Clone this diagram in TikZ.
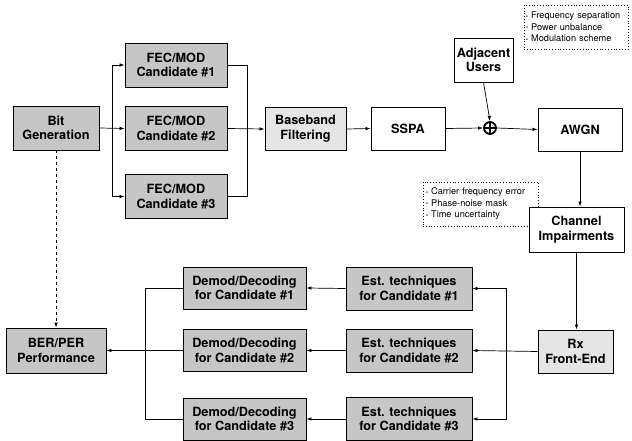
\documentclass[tikz,border=0pt]{standalone}
\usepackage{fontspec}
\setmainfont{TeX Gyre Heros}
\usetikzlibrary{arrows.meta}
\newcommand{\blt}{\raisebox{0.15ex}{\scalebox{0.6}{\textbullet}}\hspace{0.35em}}
\tikzset{
  blk/.style={draw=black, line width=0.9pt, align=center, inner sep=0pt,
    font=\bfseries\fontsize{12.7}{14.5}\selectfont},
  dark/.style={blk, fill=gray!45},
  light/.style={blk, fill=gray!20},
  white/.style={blk, fill=white},
  note/.style={draw=black, dotted, line width=0.8pt, align=left, inner sep=0pt,
    font=\fontsize{9.2}{11.5}\selectfont},
  arr/.style={line width=0.7pt, -{Latex[length=5pt,width=3.5pt]}},
  ln/.style={line width=0.7pt},
}
\begin{document}
\begin{tikzpicture}[x=1pt,y=-1pt]
\useasboundingbox (0,0) rectangle (632,441);
% top row
\node[dark, minimum width=86, minimum height=44] (bit) at (56,128) {Bit\\Generation};
\node[dark, minimum width=102, minimum height=44] (f1) at (176,65) {FEC/MOD\\Candidate \#1};
\node[dark, minimum width=102, minimum height=44] (f2) at (176,128.5) {FEC/MOD\\Candidate \#2};
\node[dark, minimum width=102, minimum height=44] (f3) at (176,196.5) {FEC/MOD\\Candidate \#3};
\node[light, minimum width=81, minimum height=43] (bb) at (305.5,129) {Baseband\\Filtering};
\node[white, minimum width=74, minimum height=43] (sspa) at (408,128.5) {SSPA};
\node[draw, circle, line width=1.8pt, minimum size=12, inner sep=0pt] (sum) at (490,128) {};
\draw[line width=1.8pt] (sum.north) -- (sum.south) (sum.west) -- (sum.east);
\node[white, minimum width=59, minimum height=44] (adj) at (483.5,60) {Adjacent\\Users};
\node[white, minimum width=84, minimum height=43] (awgn) at (580,129.5) {AWGN};
\node[note, minimum width=104, minimum height=44, text width=100] (n1) at (576,27)
  {\blt Frequency separation\\\blt Power unbalance\\\blt Modulation scheme};
\node[note, minimum width=115, minimum height=44, text width=109] (n2) at (480.5,204)
  {\blt Carrier frequency error\\\blt Phase-noise mask\\\blt Time uncertainty};
\node[white, minimum width=95, minimum height=45] (chan) at (576.5,229.5) {Channel\\Impairments};
% bottom rows
\node[light, minimum width=75, minimum height=43] (rx) at (575.5,351.5) {Rx\\Front-End};
\node[dark, minimum width=126, minimum height=43] (e1) at (409,288.5) {Est. techniques\\for Candidate \#1};
\node[dark, minimum width=126, minimum height=43] (e2) at (409,350.5) {Est. techniques\\for Candidate \#2};
\node[dark, minimum width=126, minimum height=43] (e3) at (409,419) {Est. techniques\\for Candidate \#3};
\node[dark, minimum width=123, minimum height=42] (d1) at (244.5,288) {Demod/Decoding\\for Candidate \#1};
\node[dark, minimum width=123, minimum height=42] (d2) at (244.5,350.5) {Demod/Decoding\\for Candidate \#2};
\node[dark, minimum width=123, minimum height=42] (d3) at (244.5,419) {Demod/Decoding\\for Candidate \#3};
\node[dark, minimum width=100, minimum height=45] (ber) at (56,350.5) {BER/PER\\Performance};
% connectors top
\coordinate (sb) at (112,128);
\draw[arr] (bit.east) -- (f2.west);
\draw[arr] (sb) |- (f1.west);
\draw[arr] (sb) |- (f3.west);
\coordinate (mb) at (247,128.5);
\draw[ln] (f1.east) -| (mb);
\draw[ln] (f3.east) -| (mb);
\draw[arr] (f2.east) -- (bb.west);
\draw[arr] (bb.east) -- (sspa.west);
\draw[arr] (sspa.east) -- (sum.west);
\draw[arr] (adj.south) -- (sum.north);
\draw[arr] (sum.east) -- (awgn.west);
\draw[arr] (awgn.south) -- (awgn.south |- chan.north);
\draw[arr] (chan.south) -- (chan.south |- rx.north);
% connectors bottom
\coordinate (rb) at (506,350.5);
\draw[arr] (rx.west) -- (e2.east);
\draw[arr] (rb) |- (e1.east);
\draw[arr] (rb) |- (e3.east);
\draw[arr] (e1.west) -- (d1.east);
\draw[arr] (e2.west) -- (d2.east);
\draw[arr] (e3.west) -- (d3.east);
\coordinate (db) at (145,350.5);
\draw[ln] (d1.west) -| (db);
\draw[ln] (d3.west) -| (db);
\draw[arr] (d2.west) -- (ber.east);
\draw[arr, dashed] (bit.south) -- (ber.north);
\end{tikzpicture}
\end{document}
